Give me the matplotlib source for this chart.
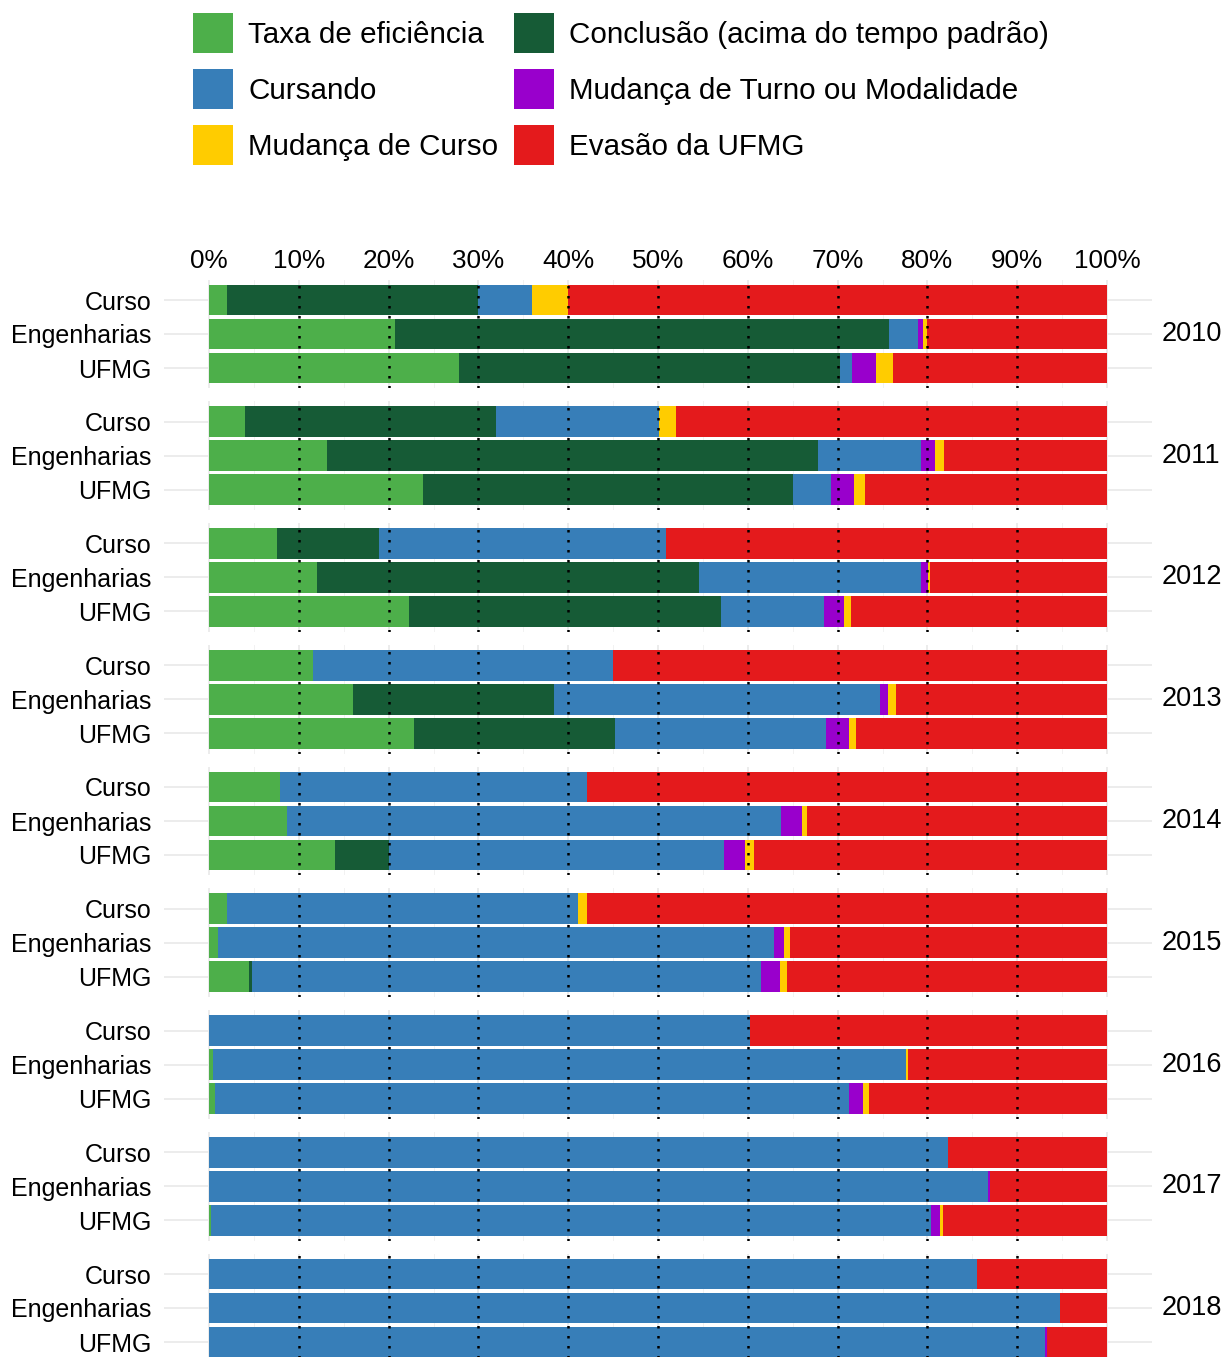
import matplotlib.pyplot as plt
from matplotlib.patches import Rectangle

plt.rcParams['font.family'] = ['Liberation Sans', 'DejaVu Sans']

years = ['2010', '2011', '2012', '2013', '2014', '2015', '2016', '2017', '2018']
groups = ['Curso', 'Engenharias', 'UFMG']
pct_ticks = [0, 10, 20, 30, 40, 50, 60, 70, 80, 90, 100]
pct_labels = ['0%', '10%', '20%', '30%', '40%', '50%', '60%', '70%', '80%', '90%', '100%']

categories = ['Taxa de eficiência', 'Conclusão (acima do tempo padrão)', 'Cursando',
              'Mudança de Turno ou Modalidade', 'Mudança de Curso', 'Evasão da UFMG']
colors = ['#4DAF4A', '#165B36', '#377EB8', '#9900CC', '#FFCC00', '#E41A1C']

# one row per year, values for Curso / Engenharias / UFMG (percent)
taxa_eficiencia = [[2.0, 20.7, 27.8], [4.0, 13.1, 23.8], [7.6, 12.0, 22.3],
                   [11.6, 16.0, 22.8], [7.9, 8.7, 14.0], [2.0, 1.0, 4.4],
                   [0.0, 0.4, 0.7], [0.0, 0.0, 0.2], [0.0, 0.0, 0.0]]
conclusao_acima = [[28.0, 55.0, 42.5], [28.0, 54.7, 41.2], [11.3, 42.6, 34.7],
                   [0.0, 22.4, 22.4], [0.0, 0.0, 6.0], [0.0, 0.0, 0.4],
                   [0.0, 0.0, 0.0], [0.0, 0.0, 0.0], [0.0, 0.0, 0.0]]
cursando = [[6.0, 3.2, 1.3], [18.1, 11.5, 4.3], [32.0, 24.7, 11.5],
            [33.4, 36.3, 23.5], [34.2, 55.0, 37.3], [39.1, 61.9, 56.7],
            [60.3, 77.2, 70.6], [82.3, 86.8, 80.2], [85.5, 94.8, 93.1]]
mudanca_turno = [[0.0, 0.6, 2.7], [0.0, 1.6, 2.5], [0.0, 0.8, 2.2],
                 [0.0, 0.9, 2.6], [0.0, 2.3, 2.4], [0.0, 1.1, 2.1],
                 [0.0, 0.0, 1.5], [0.0, 0.2, 1.0], [0.0, 0.0, 0.2]]
mudanca_curso = [[4.0, 0.5, 1.9], [1.9, 1.0, 1.3], [0.0, 0.2, 0.8],
                 [0.0, 0.9, 0.8], [0.0, 0.6, 1.0], [1.0, 0.7, 0.8],
                 [0.0, 0.2, 0.7], [0.0, 0.0, 0.3], [0.0, 0.0, 0.0]]
evasao = [[60.0, 20.0, 23.8], [48.0, 18.1, 26.9], [49.1, 19.7, 28.5],
          [55.0, 23.5, 27.9], [57.9, 33.4, 39.3], [57.9, 35.3, 35.6],
          [39.7, 22.2, 26.5], [17.7, 13.0, 18.3], [14.5, 5.2, 6.7]]

series = [taxa_eficiencia, conclusao_acima, cursando, mudanca_turno, mudanca_curso, evasao]

W, H = 1226, 1357
fig = plt.figure(figsize=(W / 100, H / 100), dpi=100)

# panel geometry in pixels
left_px, right_px = 164.1, 1151.9
top0_px, step_px, height_px = 279.6, 121.75, 108.8

for k, year in enumerate(years):
    top = top0_px + k * step_px
    ax = fig.add_axes([left_px / W, 1 - (top + height_px) / H,
                       (right_px - left_px) / W, height_px / H])
    ypos = list(range(len(groups)))
    left = [0.0] * len(groups)
    for vals, col in zip(series, colors):
        row = vals[k]
        ax.barh(ypos, row, left=left, height=0.9, color=col, linewidth=0, zorder=2)
        left = [a + b for a, b in zip(left, row)]
    for x in pct_ticks[1:-1]:
        ax.axvline(x, color='black', linestyle=(0, (1, 3)), linewidth=1.8, zorder=3)
    ax.set_xlim(-5, 105)
    ax.set_ylim(2.6, -0.6)
    ax.set_yticks(ypos)
    ax.set_yticklabels(groups, fontsize=18)
    ax.set_xticks(pct_ticks)
    ax.set_xticks([5, 15, 25, 35, 45, 55, 65, 75, 85, 95], minor=True)
    ax.grid(True, which='major', color='#EBEBEB', linewidth=1.3, zorder=0)
    ax.grid(True, which='minor', axis='x', color='#F2F2F2', linewidth=0.7, zorder=0)
    ax.set_axisbelow(True)
    ax.tick_params(axis='both', which='both', length=0)
    ax.tick_params(axis='y', pad=9)
    if k == 0:
        ax.xaxis.tick_top()
        ax.set_xticklabels(pct_labels, fontsize=18.8)
        ax.tick_params(axis='x', pad=5)
    else:
        ax.set_xticklabels([])
    for s in ax.spines.values():
        s.set_visible(False)
    ax.annotate(year, xy=(1.0, 0.5), xycoords='axes fraction', xytext=(7, 0),
                textcoords='offset points', ha='left', va='center', fontsize=19.5)

# legend drawn by hand: two columns, three rows
leg_x = [193, 514]
for i, (label, col) in enumerate(zip(categories, colors)):
    r, c = i // 2, i % 2
    y_top = 13 + r * 56
    fig.patches.append(Rectangle((leg_x[c] / W, 1 - (y_top + 40) / H), 40 / W, 40 / H,
                                 transform=fig.transFigure, facecolor=col, edgecolor='none'))
    fig.text((leg_x[c] + 55) / W, 1 - (y_top + 22) / H, label, fontsize=21.3,
             ha='left', va='center')

fig.savefig('out.png', dpi=100)
